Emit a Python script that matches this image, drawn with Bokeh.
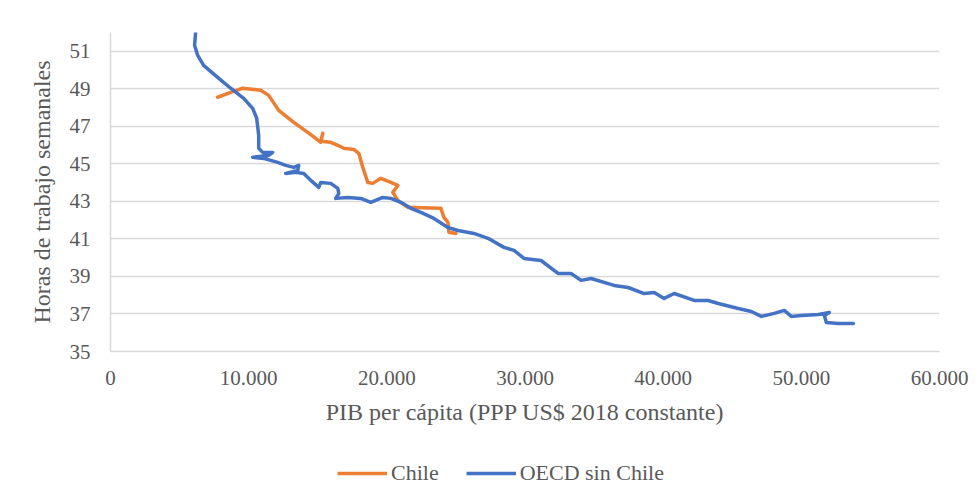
from bokeh.plotting import figure
from bokeh.layouts import column
from bokeh.models import FixedTicker, Legend, LegendItem, Range1d
from bokeh.embed import file_html
from bokeh.resources import INLINE

# Chile: PIB per cápita (PPP US$ 2018) vs horas semanales
chile_x = [7754, 8696, 9565, 10870, 11449, 12174, 13261, 14275, 14855, 15217, 15362,
           15217, 15942, 16449, 16884, 17609, 17971, 18261, 18623, 18986, 19565,
           20290, 20797, 20435, 20797, 21522, 21957, 23913, 24130, 24420, 24493, 25000]
chile_y = [48.55, 48.81, 49.03, 48.92, 48.65, 47.85, 47.21, 46.68, 46.36, 46.15, 46.63,
           46.20, 46.15, 45.99, 45.83, 45.77, 45.56, 44.81, 44.01, 43.96, 44.23,
           44.01, 43.85, 43.48, 43.05, 42.68, 42.68, 42.63, 42.15, 41.88, 41.35, 41.29]

# OECD sin Chile
oecd_x = [6159, 6087, 6304, 6739, 7754, 8696, 9638, 10290, 10580, 10725, 10725, 11014,
          11739, 11449, 10290, 11087, 12101, 12681, 13261, 13623, 13551, 12681, 13406,
          13986, 14493, 15072, 15217, 15942, 16449, 16522, 16304, 17174, 18116, 18841,
          19710, 20290, 21014, 21739, 22464, 23406, 24420, 25145, 26304, 27319, 28478,
          29203, 29928, 31159, 32391, 33333, 34058, 34783, 36449, 37464, 38623, 39348,
          40072, 40797, 42246, 43261, 43986, 45435, 46377, 47101, 48043, 48768, 49275,
          50000, 51232, 52029, 51667, 51812, 52681, 53768]
oecd_y = [52.00, 51.32, 50.79, 50.25, 49.61, 49.03, 48.49, 47.96, 47.43, 46.52, 45.83, 45.61,
          45.61, 45.45, 45.35, 45.29, 45.08, 44.92, 44.81, 44.92, 44.65, 44.49, 44.55,
          44.49, 44.12, 43.75, 44.01, 43.96, 43.69, 43.43, 43.16, 43.21, 43.16, 42.95,
          43.21, 43.16, 42.95, 42.63, 42.41, 42.09, 41.61, 41.45, 41.29, 41.03, 40.55,
          40.39, 39.96, 39.85, 39.16, 39.16, 38.79, 38.89, 38.52, 38.41, 38.09, 38.15,
          37.83, 38.09, 37.72, 37.72, 37.56, 37.29, 37.13, 36.87, 37.03, 37.19, 36.87,
          36.92, 36.97, 37.08, 36.92, 36.55, 36.49, 36.49]

series_names = ["Chile", "OECD sin Chile"]
series_colors = ["#ED7D31", "#4472C4"]

x_ticks = [0, 10000, 20000, 30000, 40000, 50000, 60000]
x_tick_labels = ["0", "10.000", "20.000", "30.000", "40.000", "50.000", "60.000"]
y_ticks = [35, 37, 39, 41, 43, 45, 47, 49, 51]

FONT = "Liberation Serif"
TXT = "#595959"
GRID = "#D9D9D9"

p = figure(width=971, height=440, output_backend="svg", toolbar_location=None,
           x_range=Range1d(0, 60000), y_range=Range1d(35, 52),
           min_border_left=110, min_border_right=32, min_border_top=32,
           min_border_bottom=89)
p.outline_line_color = None
p.background_fill_color = "white"
p.border_fill_color = "white"

p.line(chile_x, chile_y, line_color=series_colors[0], line_width=3.5,
       line_join="round", line_cap="round")
p.line(oecd_x, oecd_y, line_color=series_colors[1], line_width=3.5,
       line_join="round", line_cap="round")

p.xaxis.ticker = FixedTicker(ticks=x_ticks)
p.xaxis.major_label_overrides = {t: l for t, l in zip(x_ticks, x_tick_labels)}
p.yaxis.ticker = FixedTicker(ticks=y_ticks)

p.xgrid.visible = False
p.ygrid.grid_line_color = GRID
p.ygrid.grid_line_width = 1.5

for ax in (p.xaxis[0], p.yaxis[0]):
    ax.axis_line_color = GRID
    ax.axis_line_width = 1.5
    ax.major_tick_line_color = None
    ax.minor_tick_line_color = None
    ax.major_tick_out = 0
    ax.major_tick_in = 0
    ax.major_label_text_font = FONT
    ax.major_label_text_font_size = "21px"
    ax.major_label_text_color = TXT
    ax.axis_label_text_font = FONT
    ax.axis_label_text_font_size = "24px"
    ax.axis_label_text_color = TXT
    ax.axis_label_text_font_style = "normal"

p.xaxis.axis_label = "PIB per cápita (PPP US$ 2018 constante)"
p.yaxis.axis_label = "Horas de trabajo semanales"
p.xaxis.major_label_standoff = 19
p.xaxis.axis_label_standoff = 11
p.yaxis.major_label_standoff = 20
p.yaxis.axis_label_standoff = 12

# Legend strip below the chart (legend renderers hold off-screen samples of each series)
lg = figure(width=971, height=47, output_backend="svg", toolbar_location=None,
            x_range=Range1d(0, 1), y_range=Range1d(0, 1),
            x_axis_type=None, y_axis_type=None,
            min_border_left=0, min_border_right=0, min_border_top=0, min_border_bottom=0)
lg.outline_line_color = None
lg.grid.visible = False
lg.background_fill_color = "white"
lg.border_fill_color = "white"
items = []
for name, col, xs, ys in zip(series_names, series_colors,
                             (chile_x, oecd_x), (chile_y, oecd_y)):
    r = lg.line(x=xs[:2], y=ys[:2], line_color=col, line_width=3.5)
    items.append(LegendItem(label=name, renderers=[r]))

legend = Legend(items=items, orientation="horizontal", location=(227, 1),
                padding=0, margin=0, spacing=27, glyph_width=50, glyph_height=24,
                label_standoff=4, border_line_color=None, background_fill_alpha=0,
                label_text_font=FONT, label_text_font_size="22px",
                label_text_color=TXT)
lg.add_layout(legend, "center")

layout = column(p, lg, spacing=0)

open("out.html", "w").write(file_html(layout, INLINE))
